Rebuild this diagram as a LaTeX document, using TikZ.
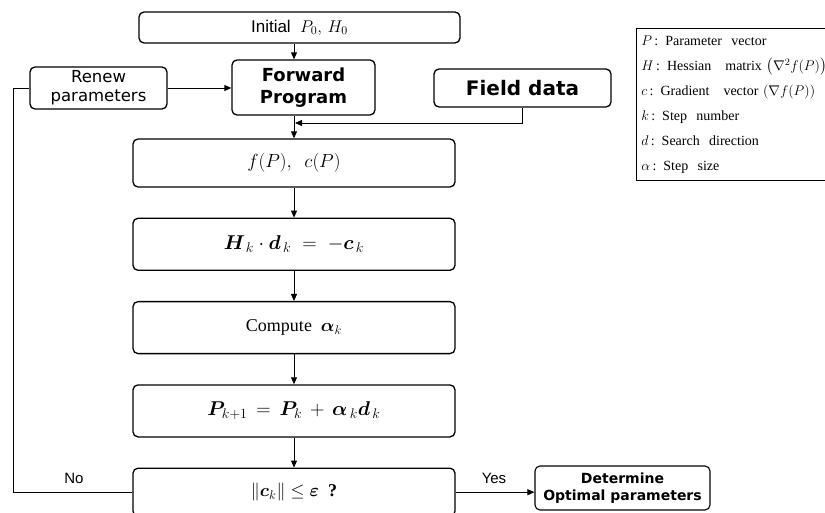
\RequirePackage{fix-cm}
\documentclass[tikz,border=0pt]{standalone}
\usepackage{fontspec}
\usepackage{amsmath}
\usepackage{bm}
\usepackage{tikz}
\usetikzlibrary{positioning,arrows.meta}
\setmainfont{Liberation Serif}
\newfontfamily\dejavu{DejaVu Sans}
\newfontfamily\arialike{Liberation Sans}

\begin{document}
\begin{tikzpicture}[
			x=1pt, y=-1pt,
			flowbox/.style={rectangle, rounded corners=5pt, draw=black, line width=1.3pt, align=center, inner sep=2pt},
			mainbox/.style={flowbox, minimum width=322pt, minimum height=52pt, font=\fontsize{18}{21}\selectfont},
			sidebox/.style={flowbox, font=\dejavu\fontsize{17}{19}\selectfont},
			legendbox/.style={rectangle, draw=black, line width=0.8pt, align=left, text width=200pt, inner xsep=5pt, inner ysep=5pt, minimum height=152pt, font=\fontsize{14}{25}\selectfont},
			arr/.style={-{Triangle[length=7pt,width=6pt]}, line width=0.9pt},
			plain/.style={line width=0.9pt},
			lbl/.style={font=\arialike\fontsize{15}{17}\selectfont},
		]
		\useasboundingbox (0,0) rectangle (825,513);
		
			%Nodes
			\node[flowbox, minimum width=321pt, minimum height=31pt, font=\arialike\fontsize{17}{19}\selectfont] (init) at (299.5,27.5) {Initial \ $P_0,\,H_0$};
			\node[sidebox, minimum width=143pt, minimum height=55pt, font=\dejavu\bfseries\fontsize{18}{22}\selectfont] (fwd) at (303.5,87.5) {Forward\\Program};
			\node[sidebox, minimum width=137pt, minimum height=42pt, font=\dejavu\fontsize{16.5}{19}\selectfont] (renew) at (98.5,88) {Renew\\parameters};
			\node[sidebox, minimum width=177pt, minimum height=38pt, font=\dejavu\bfseries\fontsize{20}{22}\selectfont] (field) at (522.5,88) {Field data};
			
			\node[mainbox, minimum height=48pt, font=\fontsize{19}{22}\selectfont] (fc) at (294,163) {$f(P),\ \ c(P)$};
			\node[mainbox, below=30pt of fc, font=\fontsize{20}{24}\selectfont] (hess) {$\bm{H}_{\,k}\cdot\bm{d}_{\,k} \;=\; -\bm{c}_{\,k}$};
			\node[mainbox, below=30pt of hess] (step) {Compute \ $\bm{\alpha}_k$};
			\node[mainbox, below=30pt of step, font=\fontsize{20}{24}\selectfont] (upd) {$\bm{P}_{k+1} \,=\, \bm{P}_{k} \,+\, \bm{\alpha}_{\,k}\bm{d}_{\,k}$};
			\node[mainbox, below=30pt of upd, minimum height=48pt] (conv) {$\lVert\bm{c}_k\rVert \le \bm{\varepsilon}$ \ \textbf{?}};
			
			\node[sidebox, minimum width=175pt, minimum height=44pt, line width=1.1pt, font=\dejavu\bfseries\fontsize{14}{17}\selectfont] (opt) at (622.5,488) {Determine\\Optimal parameters};
			
			\node[legendbox, anchor=north west] (legend) at (636,28) {%
				$P$\,: Parameter~~vector\\
				$H$\,: Hessian~~~matrix $\left(\nabla^2 f(P)\right)$\\
				$c$\,: Gradient~~~vector $\left(\nabla f(P)\right)$\\
				$k$\,: Step~~number\\
				$d$\,: Search~~direction\\
				$\alpha$\,: Step~~size};
			
			\node[lbl] (no) at (74,478) {No};
			\node[lbl] (yes) at (494,478) {Yes};
			
			\coordinate (join) at (295,123);
			\coordinate (loop) at (13,0);
		
			%Lines
			\draw[arr] (init.south -| fc.north) -- (fwd.north -| fc.north);
			\draw[arr] (renew.east) -- (renew.east -| fwd.west);
			\draw[arr] (fwd.south -| fc.north) -- (fc.north);
			\draw[arr] (field.south) |- (join);
			\draw[arr] (fc.south) -- (hess.north);
			\draw[arr] (hess.south) -- (step.north);
			\draw[arr] (step.south) -- (upd.north);
			\draw[arr] (upd.south) -- (conv.north);
			\draw[plain] (conv.west) -- (conv.west -| loop) -- (renew.west -| loop) -- (renew.west);
			\draw[arr] (conv.east) -- (conv.east -| opt.west);
		
		\end{tikzpicture}
\end{document}
